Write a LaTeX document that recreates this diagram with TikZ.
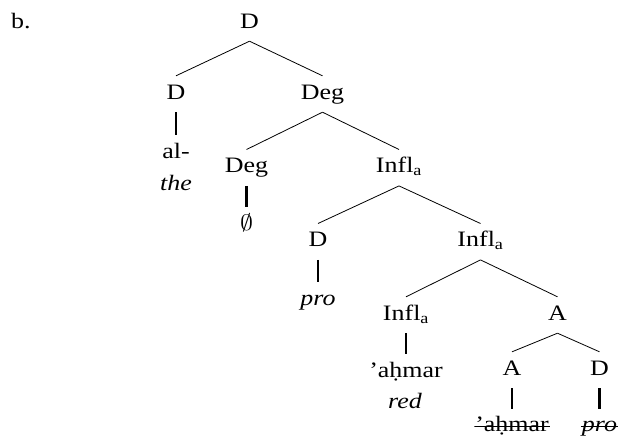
\documentclass[tikz,border=0pt]{standalone}
\usepackage{graphicx}
\usepackage{fontspec}
\setmainfont[FakeStretch=1.18]{Liberation Serif}
\usepackage{tikz}
\usetikzlibrary{positioning}

\begin{document}
\begin{tikzpicture}[
    x=1pt, y=-1pt,
    font=\fontsize{22}{26}\selectfont,
    % Define styles for the nodes and branches
        cat/.style={anchor=base, inner xsep=1pt, inner ysep=8pt, text height=15pt, text depth=5pt},
        gloss/.style={anchor=base, inner sep=0pt, font=\fontsize{22}{26}\selectfont\itshape},
        struck/.style={cat, path picture={\draw[line width=1.4pt] (path picture bounding box.west) -- (path picture bounding box.east);}},
        branch/.style={line width=0.8pt},
        stem/.style={line width=2.2pt}
    ]
        \useasboundingbox (0,0) rectangle (620,440);

        % Label of the example
        \node[anchor=base west, inner sep=0pt] (label) at (11,28) {b.};

        % Define the nodes
        \node[cat] (root) at (249.5,28) {D};

        \node[cat] (det) at (176,99) {D};
        \node[cat] (degp) at (322.5,99) {Deg};

        \node[cat] (al) at (176,158) {al-};
        \node[gloss] (the) at (176,190) {the};

        \node[cat] (deg) at (246.5,172.7) {Deg};
        \node[cat] (infla) at (399,172.7) {Infl\textsubscript{a}};

        \node[cat] (null) at (246.5,230) {\resizebox*{13pt}{18pt}{$\emptyset$}};

        \node[cat] (dpro) at (318,246.7) {D};
        \node[cat] (inflb) at (480.5,246.7) {Infl\textsubscript{a}};

        \node[cat] (pro) at (318,305) {\textit{pro}};

        \node[cat] (inflc) at (406,320) {Infl\textsubscript{a}};
        \node[cat] (adj) at (557.5,320) {A};

        \node[cat] (ahmar) at (406,377) {’aḥmar};
        \node[gloss] (red) at (405,408.5) {red};

        \node[cat] (adjb) at (512,375) {A};
        \node[cat] (dprob) at (599.5,375) {D};

        \node[struck] (ahmarx) at (512,431.7) {’aḥmar};
        \node[struck] (prox) at (599.5,431.7) {\textit{pro}};

        % Draw the branches
        \draw[branch] (root.south) -- (det.north);
        \draw[branch] (root.south) -- (degp.north);

        \draw[branch] (degp.south) -- (deg.north);
        \draw[branch] (degp.south) -- (infla.north);

        \draw[branch] (infla.south) -- (dpro.north);
        \draw[branch] (infla.south) -- (inflb.north);

        \draw[branch] (inflb.south) -- (inflc.north);
        \draw[branch] (inflb.south) -- (adj.north);

        \draw[branch] (adj.south) -- (adjb.north);
        \draw[branch] (adj.south) -- (dprob.north);

        % Draw the stems down to the words
        \draw[stem] (det.south) -- (al.north);
        \draw[stem] (deg.south) -- (null.north);
        \draw[stem] (dpro.south) -- (pro.north);
        \draw[stem] (inflc.south) -- (ahmar.north);
        \draw[stem] (adjb.south) -- (ahmarx.north);
        \draw[stem] (dprob.south) -- (prox.north);
    \end{tikzpicture}
\end{document}
